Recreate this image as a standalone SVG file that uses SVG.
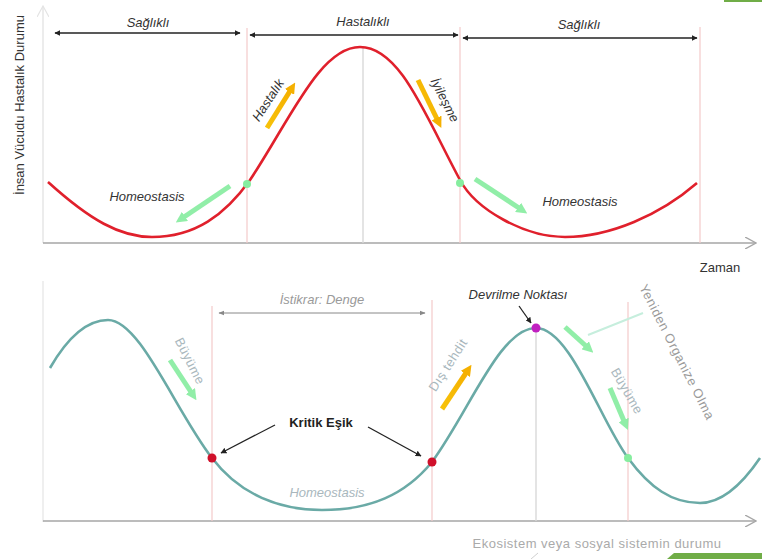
<svg xmlns="http://www.w3.org/2000/svg" width="762" height="559" viewBox="0 0 762 559">
<style>
text{font-family:"Liberation Sans",Arial,sans-serif;font-size:13px;}
.it{font-style:italic;}
.dark{fill:#333;}
.gray{fill:#9a9a9a;}
.pale{fill:#a9b7bd;}
.axis{stroke:#a6a6a6;stroke-width:1.6;fill:none;}
.vred{stroke:#f3caca;stroke-width:1.2;}
.vgray{stroke:#d9d9d9;stroke-width:1.4;}
.dbl{stroke:#222;stroke-width:1.3;marker-start:url(#bh);marker-end:url(#bh);}
.dblg{stroke:#888;stroke-width:1;marker-start:url(#gh);marker-end:url(#gh);}
.yel{stroke:url(#yg);stroke-width:5;marker-end:url(#hy);}
.grn{stroke:#86ed9f;stroke-width:5;marker-end:url(#hg);opacity:0.9;}
.pt{stroke:#222;stroke-width:1.3;marker-end:url(#bh);}
</style>
<defs>
<linearGradient id="yg" x1="0" y1="1" x2="1" y2="0"><stop offset="0" stop-color="#f7c20a"/><stop offset="1" stop-color="#f5b000"/></linearGradient>
<marker id="bh" viewBox="0 0 10 10" refX="9" refY="5" markerWidth="6" markerHeight="6" markerUnits="userSpaceOnUse" orient="auto-start-reverse"><path d="M0,0 L10,5 L0,10 z" fill="#222"/></marker>
<marker id="gh" viewBox="0 0 10 10" refX="9" refY="5" markerWidth="6" markerHeight="6" markerUnits="userSpaceOnUse" orient="auto-start-reverse"><path d="M0,1 L10,5 L0,9 z" fill="#888"/></marker>
<marker id="hy" viewBox="0 0 10 10" refX="1" refY="5" markerWidth="2.2" markerHeight="2.2" orient="auto"><path d="M0,0 L10,5 L0,10 z" fill="#f5b000"/></marker>
<marker id="hg" viewBox="0 0 10 10" refX="1" refY="5" markerWidth="2.2" markerHeight="2.2" orient="auto"><path d="M0,0 L10,5 L0,10 z" fill="#86ed9f"/></marker>
<marker id="oa" viewBox="0 0 12 12" refX="11" refY="6" markerWidth="12" markerHeight="12" markerUnits="userSpaceOnUse" orient="auto"><path d="M0,0 L11,6 L0,12" fill="none" stroke="#a6a6a6" stroke-width="1.4"/></marker>
<marker id="oat" viewBox="0 0 12 12" refX="11" refY="6" markerWidth="12" markerHeight="12" markerUnits="userSpaceOnUse" orient="auto"><path d="M0,0 L11,6 L0,12" fill="none" stroke="#e4e4e4" stroke-width="1.2"/></marker>
</defs>
<rect width="762" height="559" fill="#fff"/>
<rect x="724" y="0" width="38" height="2" fill="#70ad47"/>
<polygon points="667,559 674,553 762,553 762,559" fill="#70ad47"/>
<line x1="531" y1="559" x2="538" y2="553" stroke="#d0d0d0" stroke-width="1"/>

<g id="axes">
<line x1="43" y1="243" x2="43" y2="6" stroke="#e4e4e4" stroke-width="1.4" marker-end="url(#oat)"/>
<line class="axis" x1="43" y1="243" x2="756" y2="243" marker-end="url(#oa)"/>
<line x1="43" y1="522" x2="43" y2="281" stroke="#e8e8e8" stroke-width="1.4"/>
<line class="axis" x1="43" y1="521" x2="756" y2="521" marker-end="url(#oa)"/>
</g>

<g id="guides">
<line class="vred" x1="247" y1="28" x2="247" y2="243"/>
<line class="vgray" x1="363" y1="48" x2="363" y2="243"/>
<line class="vred" x1="460" y1="27" x2="460" y2="243"/>
<line class="vred" x1="700" y1="27" x2="700" y2="243"/>
<line class="vred" x1="212" y1="306" x2="212" y2="521"/>
<line class="vred" x1="432" y1="300" x2="432" y2="521"/>
<line class="vgray" x1="536" y1="330" x2="536" y2="521"/>
<line class="vred" x1="628" y1="302" x2="628" y2="521"/>
</g>

<g id="curves">
<path d="M48,182 C90,220 120,237 152,237 C195,237 225,215 250,180 C290,120 320,47 360,47 C400,47 425,115 460,180 C476,210 525,237 565,237 C610,237 660,215 697,183" fill="none" stroke="#e0202c" stroke-width="2.6"/>
<path d="M50,368 C65,342 85,320 108,320 C140,320 175,410 212,458 C240,495 280,510 322,510 C370,510 405,495 432,462 C470,410 500,328 536,328 C570,328 600,420 628,458 C650,488 672,503 700,503 C725,503 745,480 760,458" fill="none" stroke="#6aaaa6" stroke-width="2.6"/>
</g>

<g id="connectors">
<line class="dbl" x1="55" y1="33" x2="240" y2="33"/>
<line class="dbl" x1="250" y1="35" x2="458" y2="35"/>
<line class="dbl" x1="463" y1="38" x2="697" y2="38"/>
<line class="yel" x1="267" y1="128" x2="290" y2="91"/>
<line class="yel" x1="418" y1="80" x2="437" y2="119"/>
<line class="grn" x1="230" y1="186" x2="184" y2="217"/>
<line class="grn" x1="475" y1="179" x2="519" y2="208"/>
<line class="dblg" x1="219" y1="313" x2="425" y2="313"/>
<line class="pt" x1="275" y1="425" x2="221" y2="453"/>
<line class="pt" x1="368" y1="427" x2="421" y2="456"/>
<line class="pt" x1="519" y1="306" x2="531" y2="323"/>
<line class="grn" x1="170" y1="360" x2="191" y2="392"/>
<line class="yel" x1="442" y1="409" x2="466" y2="373"/>
<line class="grn" x1="565" y1="327" x2="586" y2="346"/>
<line x1="588" y1="335" x2="643" y2="313" stroke="#c6eedd" stroke-width="2"/>
<line class="grn" x1="610" y1="388" x2="624" y2="421"/>
</g>

<g id="points">
<circle cx="247" cy="184" r="4" fill="#86ed9f"/>
<circle cx="460" cy="183" r="4" fill="#86ed9f"/>
<circle cx="212" cy="458" r="4.5" fill="#d0102a"/>
<circle cx="432" cy="462" r="4.5" fill="#d0102a"/>
<circle cx="536" cy="328" r="4.5" fill="#c020c0"/>
<circle cx="628" cy="458" r="4" fill="#86ed9f"/>
</g>

<g id="label-y"><text class="dark" font-size="13.5" text-anchor="middle" transform="translate(19,105) rotate(-90)" dominant-baseline="central">İnsan Vücudu Hastalık Durumu</text></g>
<g id="label-saglikli1"><text class="it dark" font-size="14" x="148" y="27" text-anchor="middle">Sağlıklı</text></g>
<g id="label-hastalikli"><text class="it dark" font-size="14" x="363" y="26" text-anchor="middle">Hastalıklı</text></g>
<g id="label-saglikli2"><text class="it dark" font-size="14" x="579" y="29" text-anchor="middle">Sağlıklı</text></g>
<g id="label-hastalik"><text class="it dark" font-size="13.5" text-anchor="middle" dominant-baseline="central" transform="translate(268,100) rotate(-57)">Hastalık</text></g>
<g id="label-iyilesme"><text class="it dark" font-size="13.5" text-anchor="middle" dominant-baseline="central" transform="translate(445,100) rotate(63)">İyileşme</text></g>
<g id="label-homeo1"><text class="it dark" font-size="14.5" x="147" y="201" text-anchor="middle">Homeostasis</text></g>
<g id="label-homeo2"><text class="it dark" font-size="14.5" x="580" y="206" text-anchor="middle">Homeostasis</text></g>
<g id="label-zaman"><text class="dark" x="720" y="272" text-anchor="middle">Zaman</text></g>
<g id="label-istikrar"><text class="it gray" x="322" y="304" text-anchor="middle">İstikrar: Denge</text></g>
<g id="label-devrilme"><text class="it dark" font-size="14" x="518" y="299" text-anchor="middle">Devrilme Noktası</text></g>
<g id="label-kritik"><text font-weight="bold" fill="#222" x="321" y="427" text-anchor="middle">Kritik Eşik</text></g>
<g id="label-homeo3"><text class="it pale" font-size="14.5" x="327" y="497" text-anchor="middle">Homeostasis</text></g>
<g id="label-buyume1"><text class="pale" font-size="13.5" letter-spacing="0.5" text-anchor="middle" dominant-baseline="central" transform="translate(190,361) rotate(63)">Büyüme</text></g>
<g id="label-distehdit"><text class="pale" font-size="13.5" letter-spacing="0.5" text-anchor="middle" dominant-baseline="central" transform="translate(448,365) rotate(-57)">Dış tehdit</text></g>
<g id="label-buyume2"><text class="pale" font-size="13.5" letter-spacing="0.5" text-anchor="middle" dominant-baseline="central" transform="translate(627,391) rotate(60)">Büyüme</text></g>
<g id="label-yeniden"><text class="gray" font-size="14.5" letter-spacing="0.6" text-anchor="middle" dominant-baseline="central" transform="translate(677,352) rotate(63)">Yeniden Organize Olma</text></g>
<g id="label-ekosistem"><text fill="#aaa" font-size="15" letter-spacing="0.5" x="597" y="548" text-anchor="middle">Ekosistem veya sosyal sistemin durumu</text></g>
</svg>
